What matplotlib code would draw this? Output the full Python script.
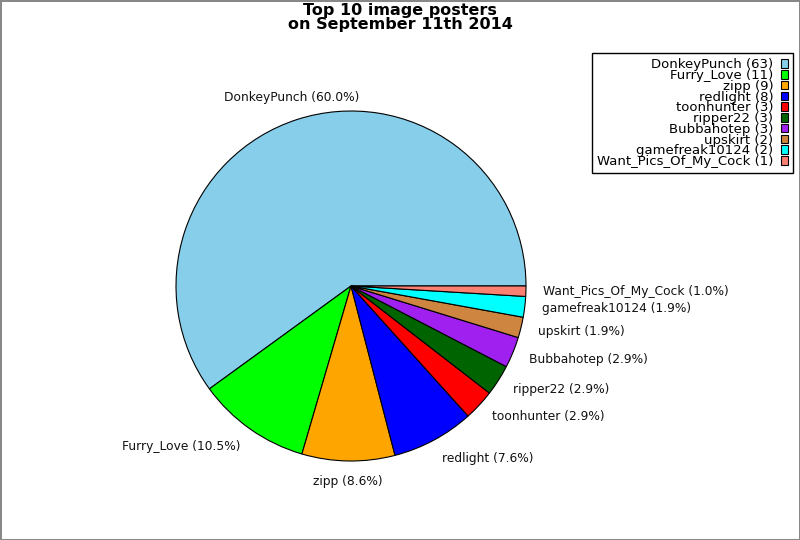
import matplotlib
matplotlib.use("Agg")
import matplotlib.pyplot as plt

names = ["DonkeyPunch", "Furry_Love", "zipp", "redlight", "toonhunter",
         "ripper22", "Bubbahotep", "upskirt", "gamefreak10124", "Want_Pics_Of_My_Cock"]
counts = [63, 11, 9, 8, 3, 3, 3, 2, 2, 1]
colors = ["#87CEEB", "#00FF00", "#FFA500", "#0000FF", "#FF0000",
          "#006400", "#A020F0", "#CD853F", "#00FFFF", "#FA8072"]
title = "Top 10 image posters\non September 11th 2014"

total = sum(counts)
pie_labels = [f"{n} ({c / total * 100:.1f}%)" for n, c in zip(names, counts)]
legend_labels = [f"{n} ({c})" for n, c in zip(names, counts)]

W, H = 800, 540
fig = plt.figure(figsize=(W / 100, H / 100), dpi=100)
fig.patch.set_edgecolor("#888888")
fig.patch.set_linewidth(2)

cx, cy, r = 351, 286, 175
ax = fig.add_axes([(cx - r) / W, (H - cy - r) / H, 2 * r / W, 2 * r / H])
wedges, texts = ax.pie(counts, labels=pie_labels, colors=colors, startangle=0,
                       counterclock=True, labeldistance=1.1,
                       wedgeprops=dict(edgecolor="black", linewidth=0.8),
                       textprops=dict(fontsize=8.8, color="#111111"))
ax.set_xlim(-1, 1)
ax.set_ylim(-1, 1)
ax.set_aspect("auto")
ax.axis("off")
for t in texts:
    x, y = t.get_position()
    t.set_clip_on(False)
    if abs(x) < 0.4:
        t.set_ha("center")
    t.set_va("center")
    if y > 0.8:
        t.set_y(y + 0.03)
    elif y < -0.8:
        t.set_y(y - 0.015)

fig.text(0.5, 1 - 17.5 / H, title, ha="center", va="center", fontsize=11.5,
         fontweight="bold", linespacing=0.92)

leg = fig.legend(wedges, legend_labels, loc="upper right",
                 bbox_to_anchor=(793 / W, 1 - 53 / H), markerfirst=False,
                 fontsize=9.5, labelspacing=-0.17, handlelength=0.5,
                 handleheight=0.6, handletextpad=0.6, borderpad=0.4,
                 borderaxespad=0, fancybox=False, framealpha=1,
                 edgecolor="black")
leg.get_frame().set_linewidth(1)
for t in leg.get_texts():
    t.set_ha("right")

fig.savefig("out.png", dpi=100)
